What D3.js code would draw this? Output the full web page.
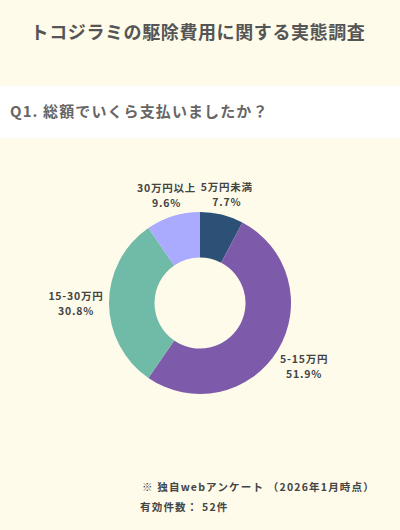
<!DOCTYPE html>
<html>
<head>
<meta charset="utf-8">
<script src="https://cdn.jsdelivr.net/npm/d3@7"></script>
<style>
  body { margin: 0; background: #fefbea; }
  svg { display: block; }
  text { font-family: "Noto Sans CJK JP", "Noto Sans", sans-serif; font-weight: 700; }
</style>
</head>
<body>
<svg></svg>
<script>
  var width = 400;
  var height = 530;

  // survey data
  var categories = ["5万円未満", "5-15万円", "15-30万円", "30万円以上"];
  var shares = [7.7, 51.9, 30.8, 9.6];
  var colors = ["#2d5176", "#7e5aab", "#6fbba8", "#aaabff"];

  var svg = d3.select("svg")
      .attr("width", width)
      .attr("height", height);

  svg.append("rect")
      .attr("width", width).attr("height", height)
      .attr("fill", "#fefbea");

  // title
  svg.append("text")
      .attr("x", 198).attr("y", 39)
      .attr("text-anchor", "middle")
      .attr("font-size", 18)
      .attr("letter-spacing", 0.6)
      .attr("fill", "#555")
      .text("トコジラミの駆除費用に関する実態調査");

  // question band
  svg.append("rect")
      .attr("x", 0).attr("y", 86)
      .attr("width", width).attr("height", 52)
      .attr("fill", "#fff");

  svg.append("text")
      .attr("x", 10).attr("y", 117)
      .attr("font-size", 15)
      .attr("letter-spacing", 1.1)
      .attr("fill", "#666")
      .text("Q1. 総額でいくら支払いましたか？");

  // donut
  var cx = 200, cy = 303;
  var outer = 91, inner = 45.5;

  var pie = d3.pie().sort(null).value(function(d) { return d; });
  var arc = d3.arc().innerRadius(inner).outerRadius(outer);
  var arcs = pie(shares);

  var g = svg.append("g").attr("transform", "translate(" + cx + "," + cy + ")");

  g.selectAll("path")
      .data(arcs)
      .enter()
      .append("path")
      .attr("d", arc)
      .attr("fill", function(d, i) { return colors[i]; });

  var labels = g.selectAll("g.lbl")
      .data(arcs)
      .enter()
      .append("g")
      .attr("class", "lbl")
      .attr("transform", function(d) {
          var a = (d.startAngle + d.endAngle) / 2;
          var r = 108 + 16 * Math.abs(Math.sin(a));
          return "translate(" + (r * Math.sin(a)) + "," + (-r * Math.cos(a)) + ")";
      });

  labels.append("text")
      .attr("y", -3)
      .attr("text-anchor", "middle")
      .attr("font-size", 10.5)
      .attr("letter-spacing", 0.8)
      .attr("fill", "#444")
      .text(function(d, i) { return categories[i]; });

  labels.append("text")
      .attr("y", 12)
      .attr("text-anchor", "middle")
      .attr("font-size", 10.5)
      .attr("letter-spacing", 0.8)
      .attr("fill", "#444")
      .text(function(d, i) { return shares[i].toFixed(1) + "%"; });

  // footer notes
  svg.append("text")
      .attr("x", 142).attr("y", 491)
      .attr("font-size", 10.5)
      .attr("letter-spacing", 1.2)
      .attr("fill", "#444")
      .text("※ 独自webアンケート （2026年1月時点）");

  svg.append("text")
      .attr("x", 140).attr("y", 511)
      .attr("font-size", 10.5)
      .attr("letter-spacing", 1.2)
      .attr("fill", "#444")
      .text("有効件数： 52件");
</script>
</body>
</html>
